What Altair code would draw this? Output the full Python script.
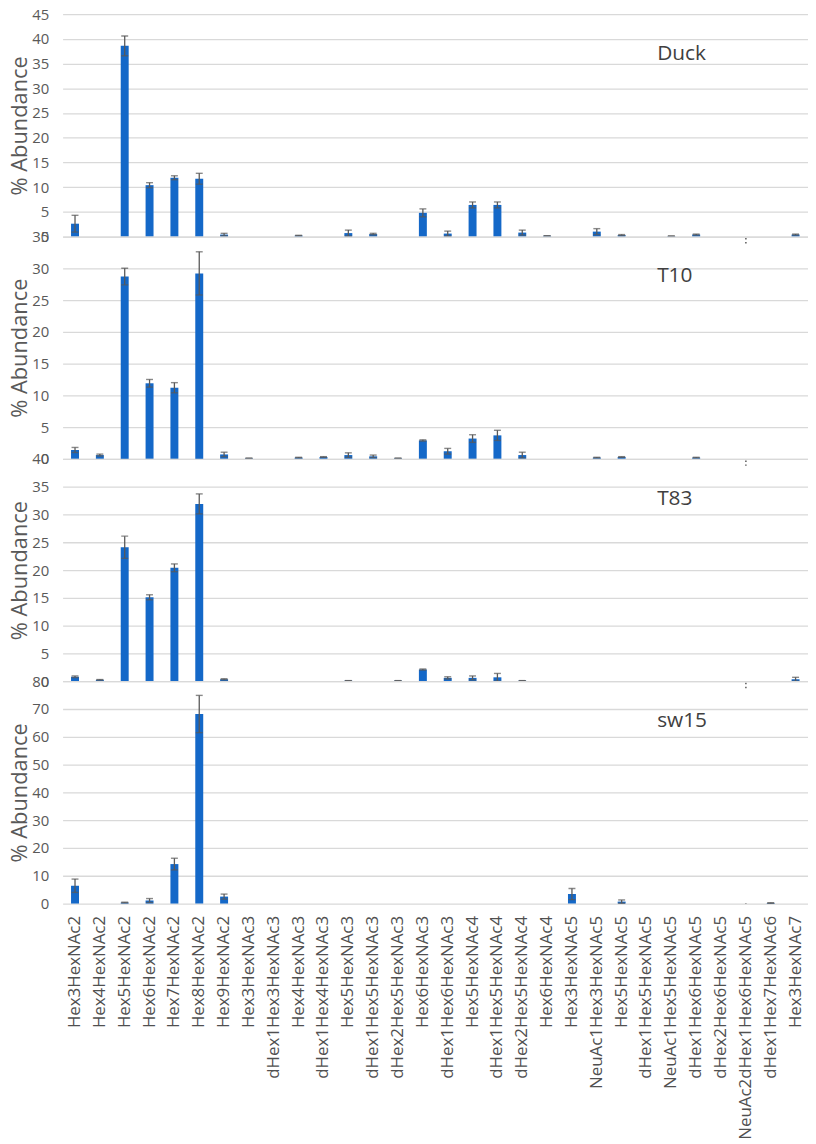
import altair as alt
import pandas as pd

cats = ["Hex3HexNAc2", "Hex4HexNAc2", "Hex5HexNAc2", "Hex6HexNAc2", "Hex7HexNAc2",
        "Hex8HexNAc2", "Hex9HexNAc2", "Hex3HexNAc3", "dHex1Hex3HexNAc3", "Hex4HexNAc3",
        "dHex1Hex4HexNAc3", "Hex5HexNAc3", "dHex1Hex5HexNAc3", "dHex2Hex5HexNAc3",
        "Hex6HexNAc3", "dHex1Hex6HexNAc3", "Hex5HexNAc4", "dHex1Hex5HexNAc4",
        "dHex2Hex5HexNAc4", "Hex6HexNAc4", "Hex3HexNAc5", "NeuAc1Hex3HexNAc5",
        "Hex5HexNAc5", "dHex1Hex5HexNAc5", "NeuAc1Hex5HexNAc5", "dHex1Hex6HexNAc5",
        "dHex2Hex6HexNAc5", "NeuAc2dHex1Hex6HexNAc5", "dHex1Hex7HexNAc6", "Hex3HexNAc7"]

duck_val = [2.6, 0, 38.6, 10.4, 11.9, 11.7, 0.4, 0, 0, 0.2, 0, 0.7, 0.5, 0, 4.8, 0.6,
            6.4, 6.4, 0.8, 0.15, 0, 1.0, 0.3, 0, 0.1, 0.4, 0, 0, 0, 0.4]
duck_err = [1.7, 0, 2.0, 0.5, 0.4, 1.1, 0.25, 0, 0, 0.05, 0, 0.6, 0.15, 0, 0.8, 0.5,
            0.6, 0.6, 0.5, 0, 0, 0.6, 0.1, 0, 0, 0.1, 0, 0, 0, 0.1]
duck_neg = [0] * 27 + [1.4, 0, 0]

t10_val = [1.4, 0.6, 28.7, 11.9, 11.2, 29.2, 0.7, 0.1, 0, 0.2, 0.3, 0.6, 0.4, 0.1, 2.9, 1.2,
           3.2, 3.7, 0.6, 0, 0, 0.2, 0.3, 0, 0, 0.2, 0, 0, 0, 0]
t10_err = [0.4, 0.15, 1.3, 0.6, 0.8, 3.4, 0.35, 0, 0, 0.05, 0.05, 0.35, 0.2, 0, 0.1, 0.45,
           0.6, 0.8, 0.45, 0, 0, 0.05, 0.05, 0, 0, 0.05, 0, 0, 0, 0]
t10_neg = [0] * 27 + [1.1, 0, 0]

t83_val = [0.8, 0.25, 24.1, 15.1, 20.4, 31.9, 0.35, 0, 0, 0, 0, 0.1, 0, 0.1, 2.1, 0.6,
           0.6, 0.7, 0.1, 0, 0, 0, 0, 0, 0, 0, 0, 0, 0, 0.35]
t83_err = [0.15, 0.05, 2.0, 0.45, 0.7, 1.8, 0.1, 0, 0, 0, 0, 0, 0, 0, 0.1, 0.2,
           0.35, 0.7, 0, 0, 0, 0, 0, 0, 0, 0, 0, 0, 0, 0.35]
t83_neg = [0] * 27 + [1.25, 0, 0]

sw15_val = [6.4, 0, 0.35, 1.1, 14.2, 68.2, 2.5, 0, 0, 0, 0, 0, 0, 0, 0, 0,
            0, 0, 0, 0, 3.4, 0, 0.7, 0, 0, 0, 0, 0, 0.2, 0]
sw15_err = [2.4, 0, 0.1, 0.7, 2.1, 6.7, 0.9, 0, 0, 0, 0, 0, 0, 0, 0, 0,
            0, 0, 0, 0, 2.0, 0, 0.6, 0, 0, 0, 0, 0, 0.1, 0]
sw15_neg = [0] * 27 + [0.2, 0, 0]

panels = [
    ("Duck", duck_val, duck_err, duck_neg, 45, 5),
    ("T10", t10_val, t10_err, t10_neg, 35, 5),
    ("T83", t83_val, t83_err, t83_neg, 40, 5),
    ("sw15", sw15_val, sw15_err, sw15_neg, 80, 10),
]

FONT = "Open Sans"
BLUE = "#1468C8"
GREY = "#595959"
W, H = 751, 224


def make_panel(name, vals, errs, neg, ymax, step, show_x):
    df = pd.DataFrame({"cat": cats, "value": vals, "err": errs, "neg": neg})
    df["lo"] = df["value"] - df["err"]
    df["hi"] = df["value"] + df["err"]
    if show_x:
        xaxis = alt.Axis(labelAngle=-90, labelFontSize=17, labelFont=FONT, labelColor="#505050",
                         labelPadding=12, ticks=False, domain=False, grid=False,
                         labelLimit=400, labelOverlap=False, title=None)
    else:
        xaxis = None
    x = alt.X("cat:N", sort=cats, axis=xaxis, title=None,
              scale=alt.Scale(domain=cats, paddingInner=0.68, paddingOuter=0.34))
    yscale = alt.Scale(domain=[0, ymax], nice=False, zero=True)
    yaxis = alt.Axis(values=list(range(0, ymax + 1, step)), title="% Abundance",
                     titleFontSize=22, titleFont=FONT, titleFontWeight="normal",
                     titleColor=GREY, titlePadding=0, labelFontSize=15, labelFont=FONT,
                     labelColor=GREY, labelPadding=14, ticks=False, domain=False,
                     labelOverlap=False, grid=True, gridColor="#d9d9d9", gridWidth=1.3)

    def Y(field):
        return alt.Y(field, scale=yscale, axis=yaxis, title="% Abundance")

    base = alt.Chart(df)
    bars = base.transform_filter("datum.value > 0").mark_bar(color=BLUE).encode(
        x=x, y=Y("value:Q"))
    ebase = base.transform_filter("datum.value > 0")
    rule = ebase.mark_rule(color=GREY, strokeWidth=1.3).encode(
        x=x, y=Y("lo:Q"), y2="hi:Q")
    cap_hi = ebase.mark_tick(color=GREY, size=7, thickness=1.4).encode(
        x=x, y=Y("hi:Q"))
    cap_lo = ebase.mark_tick(color=GREY, size=7, thickness=1.4).encode(
        x=x, y=Y("lo:Q"))
    dots = base.transform_filter("datum.neg > 0").transform_calculate(
        nlo="-datum.neg", z="0").mark_rule(color=GREY, strokeWidth=1.5,
                                            strokeDash=[1.5, 2.5]).encode(
        x=x, y=Y("nlo:Q"), y2="z:Q")
    label = alt.Chart(pd.DataFrame({"t": [name]})).mark_text(
        align="left", baseline="middle", fontSize=21, font=FONT, color="#404040").encode(
        x=alt.value(599), y=alt.value(40), text="t:N")
    return alt.layer(bars, rule, cap_hi, cap_lo, dots, label).properties(width=W, height=H)


charts = [make_panel(n, v, e, ng, m, s, i == len(panels) - 1)
          for i, (n, v, e, ng, m, s) in enumerate(panels)]

chart = alt.vconcat(*charts, spacing=0, bounds="flush").properties(
    padding={"left": 0, "top": -5, "right": 0, "bottom": 0}
).configure(background="white").configure_view(stroke=None)

chart.save("out.html", embed_options={"renderer": "svg", "actions": False})
